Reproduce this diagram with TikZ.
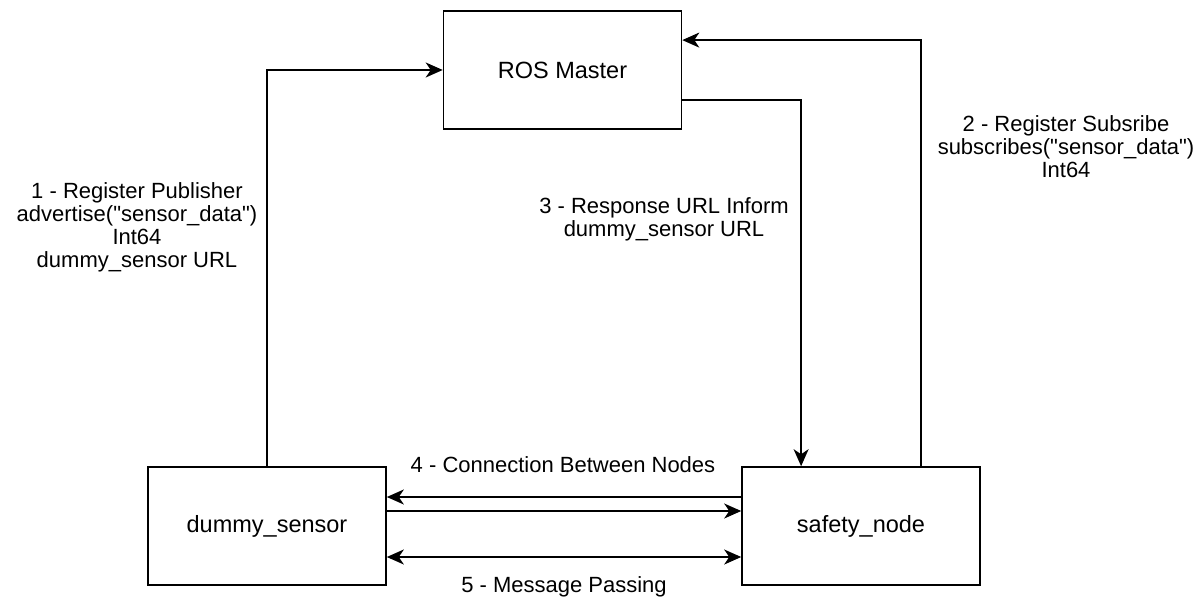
\documentclass[tikz,border=0pt]{standalone}
\usepackage{fontspec}
\setmainfont{Liberation Sans}[Ligatures=TeXOff]
\usetikzlibrary{arrows.meta,calc}
\begin{document}
\begin{tikzpicture}[
  x=1pt, y=-1pt,
  every node/.style={font=\fontsize{22}{23}\selectfont},
  box/.style={draw, line width=1.6pt, minimum width=238pt, minimum height=118pt, inner sep=0pt,
              font=\fontsize{23.5}{25}\selectfont},
  lbl/.style={align=center, inner sep=0pt},
  arr/.style={line width=1.6pt, -{Stealth[length=17pt,width=15pt,inset=5pt]}},
  darr/.style={line width=1.6pt, {Stealth[length=17pt,width=15pt,inset=5pt]}-{Stealth[length=17pt,width=15pt,inset=5pt]}}
]
\useasboundingbox (0,0) rectangle (1198,601);

% main components
\node[box] (master) at (562.5,70) {ROS Master};
\node[box] (dummy)  at (267,526)  {dummy\_sensor};
\node[box] (safety) at (861,526)  {safety\_node};

% heights of the links between the two nodes
\coordinate (h1) at (0,497);
\coordinate (h2) at (0,511);
\coordinate (h3) at (0,557);

% registration and lookup through the master
\draw[arr] (dummy.north) |- (master.west);
\draw[arr] ($(master.north east)!0.75!(master.south east)$) -| ($(safety.north west)!0.25!(safety.north east)$);
\draw[arr] ($(safety.north west)!0.75!(safety.north east)$) |- ($(master.north east)!0.25!(master.south east)$);

% direct connection and message passing
\draw[arr]  (safety.west |- h1) -- (dummy.east |- h1);
\draw[arr]  (dummy.east |- h2) -- (safety.west |- h2);
\draw[darr] (dummy.east |- h3) -- (safety.west |- h3);

% step labels
\node[lbl] (l1) at (137,227) {1 - Register Publisher\\advertise("sensor\_data")\\Int64\\dummy\_sensor URL};
\node[lbl] (l2) at (1066,147) {2 - Register Subsribe\\subscribes("sensor\_data")\\Int64};
\node[lbl] (l3) at (664,219) {3 - Response URL Inform\\dummy\_sensor URL};
\node[lbl] (l4) at (563,465) {4 - Connection Between Nodes};
\node[lbl] (l5) at (564,587) {5 - Message Passing};
\end{tikzpicture}
\end{document}
